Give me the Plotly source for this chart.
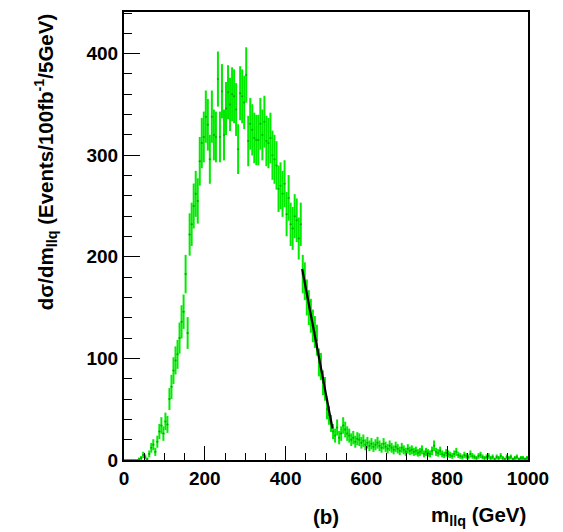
import numpy as np
import plotly.graph_objects as go

# 5 GeV bins from 0 to 1000 GeV (lower edges)
bin_width = 5
bin_lo = list(range(0, 1000, bin_width))

# Histogram contents (events / 100 fb^-1 / 5 GeV)
counts = [
    0, 0, 0, 0, 0, 0, 0, 1, 2, 5,                 # 0-50
    3, 1, 6, 12, 15, 8, 18, 28, 34, 26,           # 50-100
    38, 35, 60, 72, 88, 98, 104, 120, 136, 146,   # 100-150
    183, 125, 222, 232, 250, 262, 255, 294, 312, 318,  # 150-200
    338, 330, 296, 338, 320, 318, 375, 318, 363, 320,  # 200-250
    346, 362, 350, 360, 358, 345, 306, 361, 358, 352,  # 250-300
    379, 314, 331, 325, 317, 315, 315, 331, 320, 333,  # 300-350
    314, 312, 317, 300, 296, 290, 267, 270, 262, 272,  # 350-400
    242, 258, 232, 228, 240, 236, 218, 232, 183, 176,  # 400-450
    160, 150, 142, 132, 126, 118, 96, 92, 76, 70,      # 450-500
    50, 44, 36, 28, 24, 32, 22, 26, 34, 30,            # 500-550
    26, 24, 20, 22, 18, 21, 20, 17, 19, 15,            # 550-600
    17, 14, 16, 13, 15, 17, 14, 12, 16, 13,            # 600-650
    11, 14, 12, 10, 13, 11, 9, 12, 10, 8,              # 650-700
    11, 9, 10, 8, 9, 7, 8, 10, 6, 8,                   # 700-750
    7, 6, 9, 14, 8, 7, 9, 6, 5, 7,                     # 750-800
    6, 5, 4, 6, 8, 5, 4, 3, 5, 4,                      # 800-850
    3, 6, 4, 3, 2, 4, 5, 3, 2, 3,                      # 850-900
    4, 2, 3, 1, 3, 2, 4, 2, 1, 3,                      # 900-950
    2, 3, 1, 2, 3, 1, 2, 2, 1, 2,                      # 950-1000
]

# Straight-line fit on the falling edge (GeV, events)
fit_x = [441, 516]
fit_y = [188, 31]

x_ticks = [0, 200, 400, 600, 800, 1000]
y_ticks = [0, 100, 200, 300, 400]

centers = np.array(bin_lo) + bin_width / 2
vals = np.array(counts, dtype=float)
errs = 1.4 * np.sqrt(vals)

GREEN = "rgb(0,235,0)"
FONT = "Liberation Sans, Arial, Helvetica, sans-serif"

fig = go.Figure()
fig.add_trace(go.Scatter(
    x=centers, y=vals, mode="markers",
    marker=dict(size=2, color="rgb(0,170,0)", line=dict(width=0)),
    error_y=dict(type="data", array=errs, visible=True, color=GREEN,
                 thickness=2, width=0),
    error_x=dict(type="constant", value=bin_width / 2, visible=True,
                 color=GREEN, thickness=1, width=0),
    showlegend=False, hoverinfo="skip",
))
fig.add_trace(go.Scatter(
    x=fit_x, y=fit_y, mode="lines",
    line=dict(color="black", width=2.2),
    showlegend=False, hoverinfo="skip",
))

axis_common = dict(
    showgrid=False, zeroline=False, showline=True, linecolor="black",
    linewidth=2, mirror=True, ticks="inside", tickcolor="black",
    tickfont=dict(family=FONT, size=19, color="black", weight="bold"),
)

fig.update_xaxes(
    range=[0, 1000], tickvals=x_ticks, ticklen=14, tickwidth=1.2,
    minor=dict(dtick=50, ticks="inside", ticklen=7, tickcolor="black", tickwidth=1.2, showgrid=False),
    **axis_common,
)
fig.update_yaxes(
    range=[0, 441], tickvals=y_ticks, ticklen=16, tickwidth=1.2,
    minor=dict(dtick=20, ticks="inside", ticklen=8, tickcolor="black", tickwidth=1.2, showgrid=False),
    **axis_common,
)

title_font = dict(family=FONT, size=20.5, color="black", weight="bold")

fig.update_layout(
    width=555, height=524,
    margin=dict(l=116, r=35, t=2, b=72),
    plot_bgcolor="white", paper_bgcolor="white",
    annotations=[
        dict(text="dσ/dm<sub>llq</sub> (Events/100fb<sup>-1</sup>/5GeV)",
             xref="paper", yref="paper", x=-0.195, y=1.0,
             xanchor="center", yanchor="top", textangle=-90,
             showarrow=False, font=title_font),
        dict(text="m<sub>llq</sub> (GeV)", xref="paper", yref="paper",
             x=1.0, y=-0.125, xanchor="right", yanchor="middle",
             showarrow=False, font=title_font),
        dict(text="(b)", xref="paper", yref="paper",
             x=0.5, y=-0.125, xanchor="center", yanchor="middle",
             showarrow=False, font=title_font),
    ],
)

fig.write_html("out.html")
